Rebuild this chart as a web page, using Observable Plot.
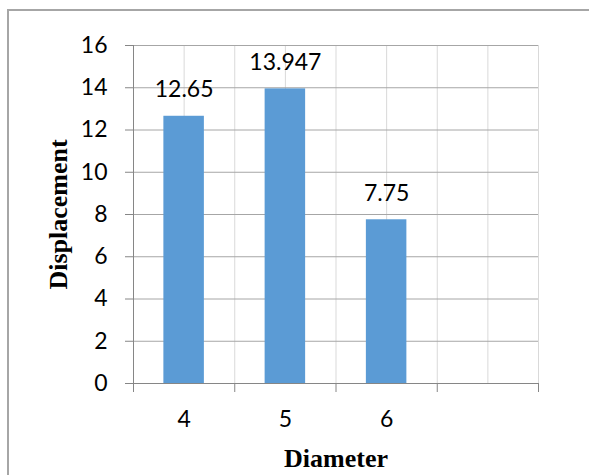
<!DOCTYPE html>
<html><head><meta charset="utf-8">
<script src="https://cdn.jsdelivr.net/npm/d3@7"></script>
<script src="https://cdn.jsdelivr.net/npm/@observablehq/plot@0.6"></script>
<style>
body{margin:0;overflow:hidden;background:#fff}
#wrap{position:relative;width:589px;height:475px;overflow:hidden;background:#fff}
#chart{position:absolute;left:0;top:0}
#border{position:absolute;left:7px;top:9px;width:700px;height:700px;border:2px solid #a6a6a6;pointer-events:none}
</style></head><body>
<div id="wrap"><div id="chart"></div><div id="border"></div></div>
<script>
const categories = ["4", "5", "6", ""];
const values = [12.65, 13.947, 7.75, null];
const valueLabels = ["12.65", "13.947", "7.75", ""];
const yTicks = [0, 2, 4, 6, 8, 10, 12, 14, 16];
const xTitle = "Diameter";
const yTitle = "Displacement";

const data = categories.map((c, i) => ({i, c, v: values[i], label: valueLabels[i]}));
const bars = data.filter(d => d.v != null);
const centers = d3.range(categories.length);
const boundaries = d3.range(categories.length + 1).map(k => k - 0.5);
const vGrid = boundaries.concat(centers);
const half = 0.2; // bar half-width as fraction of category step

const tickFont = "Lato, 'Open Sans', sans-serif";
const titleFont = "'Liberation Serif', 'Times New Roman', serif";

const chart = Plot.plot({
  width: 589,
  height: 475,
  marginLeft: 133,
  marginRight: 51,
  marginTop: 45,
  marginBottom: 92,
  style: {background: "transparent", color: "#000", overflow: "visible"},
  x: {type: "linear", domain: [-0.5, categories.length - 0.5]},
  y: {domain: [0, 16]},
  marks: [
    Plot.ruleX(vGrid, {stroke: "#d9d9d9", strokeOpacity: 1}),
    Plot.ruleY(yTicks.filter(t => t > 0), {stroke: "#a6a6a6", strokeOpacity: 1}),
    Plot.rect(bars, {x1: d => d.i - half, x2: d => d.i + half, y1: 0, y2: "v", fill: "#5b9bd5"}),
    Plot.ruleY([0], {stroke: "#868686", strokeOpacity: 1}),
    Plot.ruleX([boundaries[0]], {stroke: "#868686", strokeOpacity: 1}),
    Plot.text(bars, {x: "i", y: "v", text: "label", dy: -19, lineAnchor: "bottom", fontSize: 23, fontFamily: tickFont, fill: "#000"}),
    Plot.axisY({ticks: yTicks, tickSize: 8, tickPadding: 18, fontSize: 23, fontFamily: tickFont, stroke: "#868686", label: null}),
    Plot.axisY({ticks: [], label: yTitle, labelAnchor: "center", labelArrow: "none", labelOffset: 85, fontSize: 26, fontWeight: "bold", fontFamily: titleFont}),
    Plot.axisX({ticks: boundaries, tickSize: 9, tickFormat: () => "", stroke: "#868686", label: null}),
    Plot.axisX({ticks: centers, tickSize: 0, tickPadding: 27, tickFormat: i => categories[i], fontSize: 23, fontFamily: tickFont, label: null}),
    Plot.axisX({ticks: [], label: xTitle, labelAnchor: "center", labelArrow: "none", labelOffset: 83, fontSize: 26, fontWeight: "bold", fontFamily: titleFont})
  ]
});
document.getElementById("chart").appendChild(chart);
</script>
</body></html>
